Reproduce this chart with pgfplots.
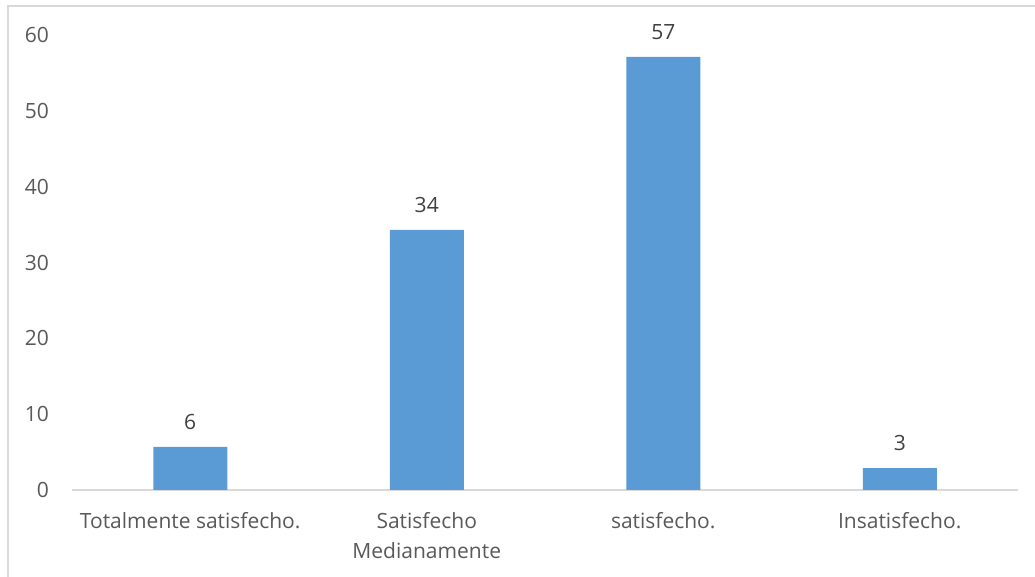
\documentclass[border=0pt]{standalone}
\usepackage{pgfplots}
\pgfplotsset{compat=1.18}
\usepackage{fontspec}
\setmainfont{Open Sans}
\definecolor{barblue}{HTML}{5B9BD5}
\definecolor{txtgray}{HTML}{595959}
\definecolor{lblgray}{HTML}{404040}
\definecolor{linegray}{HTML}{D9D9D9}
\begin{document}
\begin{tikzpicture}[x=1pt,y=1pt]
\path[use as bounding box] (0,0) rectangle (1035,577);
\draw[linegray, line width=1.5pt] (8,0) -- (8,571) -- (1036,571);
\begin{axis}[
  at={(72pt,87pt)}, anchor=south west,
  scale only axis, width=946pt, height=455pt,
  xmin=-0.5, xmax=3.5, ymin=0, ymax=60,
  axis line style={draw=none},
  major tick length=0pt,
  ytick={0,10,...,60},
  xtick={0,1,2,3},
  xticklabels={Totalmente satisfecho., {Satisfecho\\Medianamente}, satisfecho., Insatisfecho.},
  /pgf/number format/assume math mode=true,
  yticklabel style={font=\fontsize{21}{26}\selectfont, color=txtgray, anchor=east, inner sep=0pt, xshift=-23pt},
  xticklabel style={font=\fontsize{21}{30}\selectfont, color=txtgray, anchor=north, inner sep=0pt, yshift=-22pt, align=center},
  clip=false,
]
\draw[linegray, line width=1.5pt] (axis cs:-0.5,0) -- (axis cs:3.5,0);
\addplot[ybar, bar width=74pt, bar shift=0pt, fill=barblue, draw=none,
  point meta=y,
  nodes near coords={\pgfmathprintnumber[fixed,precision=0,assume math mode=true]{\pgfplotspointmeta}},
  nodes near coords style={anchor=south, inner sep=0pt, yshift=17pt, color=lblgray, font=\fontsize{21}{26}\selectfont}]
  coordinates {(0,5.7) (1,34.3) (2,57.1) (3,2.9)};
\end{axis}
\end{tikzpicture}
\end{document}
